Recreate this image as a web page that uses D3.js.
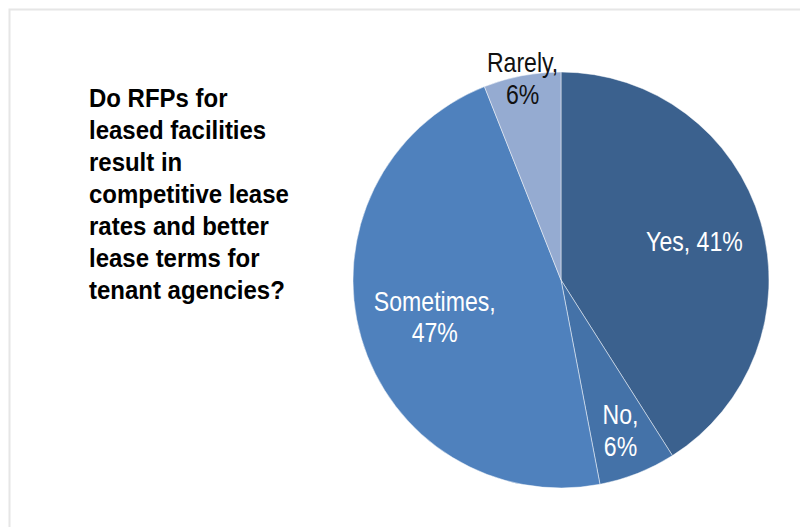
<!DOCTYPE html>
<html>
<head>
<meta charset="utf-8">
<script src="https://cdn.jsdelivr.net/npm/d3@7"></script>
<style>
  html, body { margin: 0; padding: 0; background: #fff; }
  svg { display: block; font-family: "Liberation Sans Narrow", "Arial Narrow", "Liberation Sans", Arial, sans-serif; }
</style>
</head>
<body>
<svg id="chart" width="800" height="527"></svg>
<script>
// Survey responses
const categories = ["Yes", "No", "Sometimes", "Rarely"];
const shares = [41, 6, 47, 6];
const sliceColors = ["#3B618E", "#4472A8", "#4F81BD", "#95ABD1"];
const labelColors = ["#ffffff", "#ffffff", "#ffffff", "#111111"];
// label distance from centre as a fraction of the radius
const labelRadius = [0.668, 0.777, 0.632, 0.986];
const questionLines = [
  "Do RFPs for",
  "leased facilities",
  "result in",
  "competitive lease",
  "rates and better",
  "lease terms for",
  "tenant agencies?"
];

const svg = d3.select("#chart");
const W = 800, H = 527;

// condensed look for the sans face
const titleSquash = 0.922;
const labelSquash = 0.855;

// chart frame
svg.append("rect")
  .attr("x", 9.5).attr("y", 9.5)
  .attr("width", W + 10).attr("height", H + 10)
  .attr("fill", "#fff")
  .attr("stroke", "#e6e6e6")
  .attr("stroke-width", 2);

// question text
const title = svg.append("text")
  .attr("transform", `translate(89,107) scale(${titleSquash},1)`)
  .attr("font-size", 26)
  .attr("font-weight", "bold")
  .attr("fill", "#000");
questionLines.forEach((line, i) => {
  title.append("tspan")
    .attr("x", 0)
    .attr("y", i * 32)
    .text(line);
});

// pie
const cx = 561, cy = 280, R = 208;
const g = svg.append("g").attr("transform", `translate(${cx},${cy})`);

const data = categories.map((c, i) => ({ name: c, value: shares[i], idx: i }));
const pie = d3.pie().sort(null).value(d => d.value);
const arcs = pie(data);
const arc = d3.arc().innerRadius(0).outerRadius(R);

g.selectAll("path.slice")
  .data(arcs)
  .join("path")
  .attr("class", "slice")
  .attr("d", arc)
  .attr("fill", d => sliceColors[d.data.idx])
  .attr("stroke", "#ffffff")
  .attr("stroke-opacity", 0.6)
  .attr("stroke-width", 0.8);

// data labels
const labelSize = 27;
const lineH = 31.6;
const capH = 0.716 * labelSize;
arcs.forEach(d => {
  const i = d.data.idx;
  const mid = (d.startAngle + d.endAngle) / 2;
  const r = R * labelRadius[i];
  const x = Math.sin(mid) * r;
  const y = -Math.cos(mid) * r;
  const lines = i === 0
    ? [`${d.data.name}, ${d.data.value}%`]
    : [`${d.data.name},`, `${d.data.value}%`];
  const y0 = y - (lines.length - 1) * lineH / 2 + capH / 2;
  const t = g.append("text")
    .attr("transform", `translate(${x},${y0}) scale(${labelSquash},1)`)
    .attr("text-anchor", "middle")
    .attr("font-size", labelSize)
    .attr("fill", labelColors[i]);
  lines.forEach((ln, k) => {
    t.append("tspan")
      .attr("x", 0)
      .attr("y", k * lineH)
      .text(ln);
  });
});
</script>
</body>
</html>
